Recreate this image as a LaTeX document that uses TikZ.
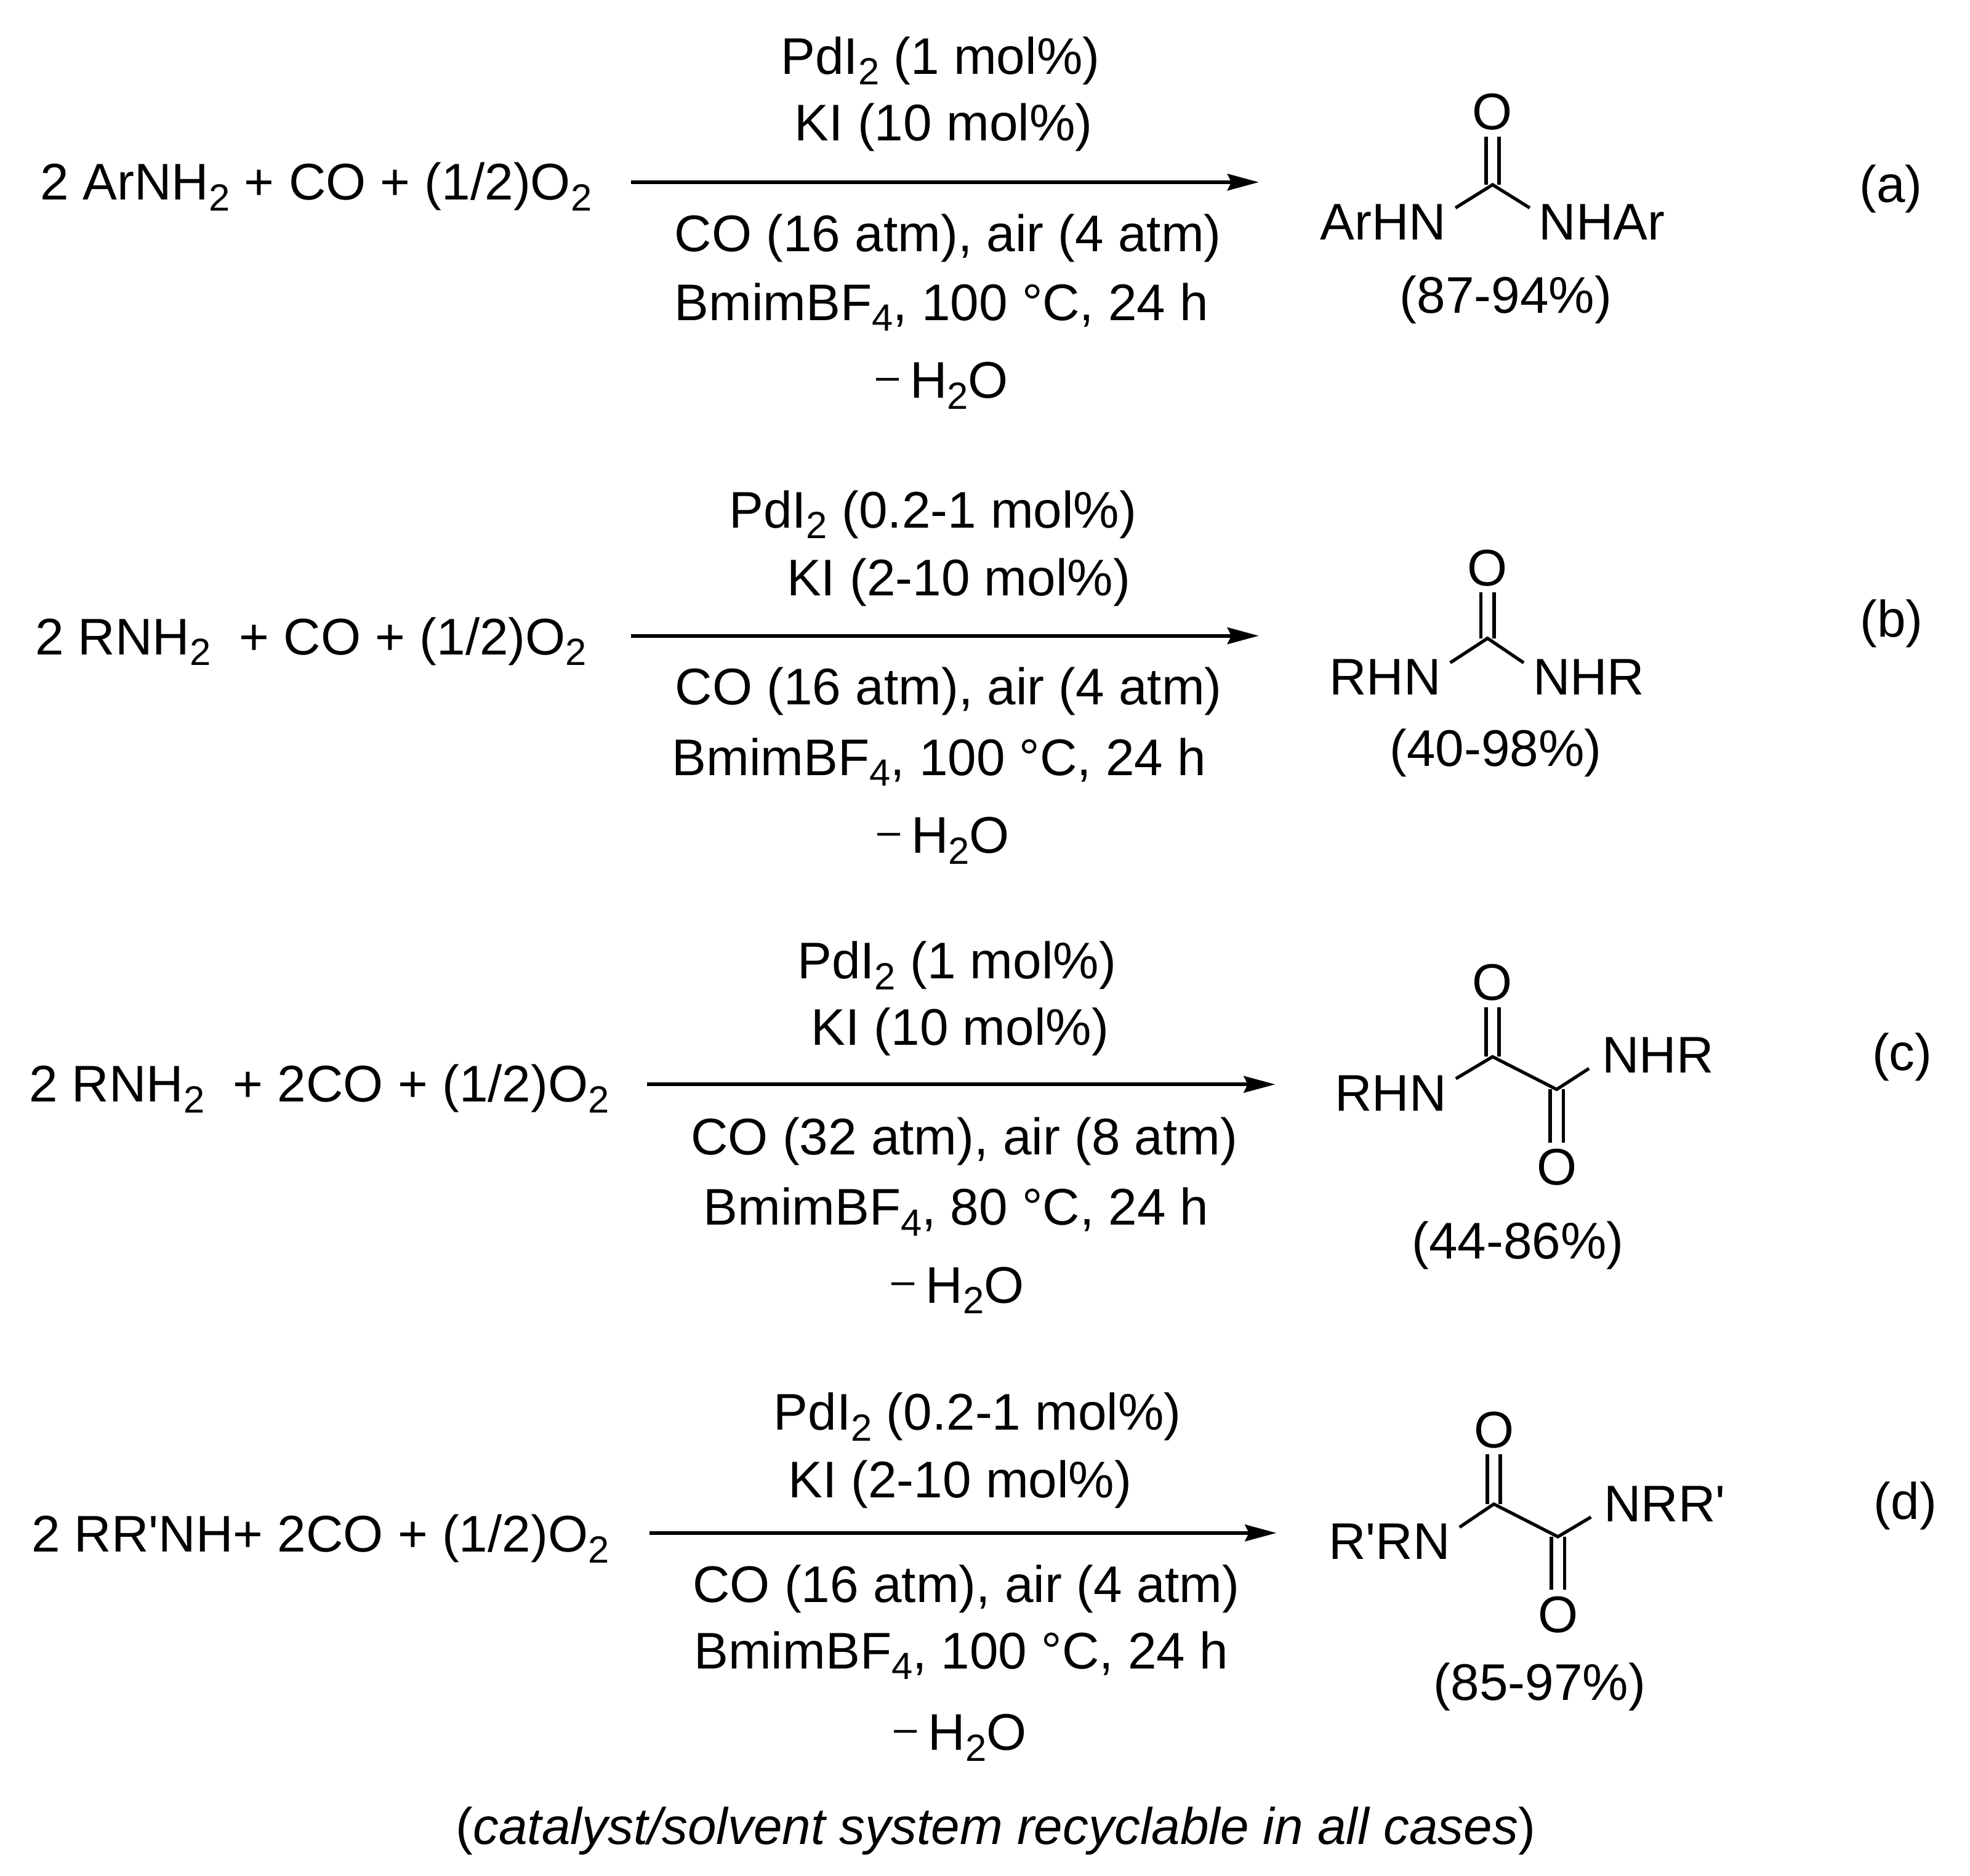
\documentclass[tikz,border=0pt]{standalone}
\usepackage{fontspec}
\setmainfont{Liberation Sans}
\newfontfamily\straightfont{Liberation Sans}
\usetikzlibrary{arrows.meta}

\newcommand{\chemsub}[1]{\raisebox{-0.21em}{\fontsize{17.5}{20}\selectfont #1}}
\newcommand{\lessh}{{\fontsize{19}{20}\selectfont\raisebox{3.9pt}{–}}\hspace{5pt}}
\newcommand{\prm}{{\straightfont '}}

\tikzset{
  txt/.style={anchor=base, inner sep=0pt, font=\fontsize{23.8}{28}\selectfont},
  atom/.style={txt},
  oxy/.style={txt, inner xsep=0pt, inner ysep=2.8pt},
  bond/.style={line width=1.5pt, line join=miter},
  dbond/.style={line width=1.5pt, double, double distance=4.5pt},
  rxnarrow/.style={line width=1.8pt, -{Stealth[length=14.5pt, width=7.6pt, inset=1.8pt]}}
}

\begin{document}
\begin{tikzpicture}[x=0.020408cm, y=-0.020408cm]
  \useasboundingbox (0,0) rectangle (1568,1493);

  % Reaction (a)
  \node[txt] (reactA) at (251.5,159) {2 ArNH\chemsub{2} + CO + (1/2)O\chemsub{2}};
  \coordinate (startA) at (502,145);
  \coordinate (endA) at (1002,145);
  \draw[rxnarrow] (startA) -- (endA);
  \node[txt] (pdA) at (748.5,59) {PdI\chemsub{2} (1 mol\%)};
  \node[txt] (kiA) at (751,112) {KI (10 mol\%)};
  \node[txt] (coA) at (754.5,200) {CO (16 atm), air (4 atm)};
  \node[txt] (solvA) at (749.5,255) {BmimBF\chemsub{4}, 100 °C, 24 h};
  \node[txt] (waterA) at (750,317) {\lessh H\chemsub{2}O};
  \coordinate (cA) at (1188,147);
  \node[oxy] (oA) at (1188,103) {O};
  \node[atom] (leftA) at (1101,191) {ArHN};
  \node[atom] (rightA) at (1275,191) {NHAr};
  \draw[dbond] (cA) -- (oA);
  \draw[bond] ([shift={(7,3)}]leftA.north east) -- (cA) -- ([shift={(-7,3)}]rightA.north west);
  \node[txt] (yieldA) at (1198.5,249) {(87-94\%)};
  \node[txt] (tagA) at (1505,161) {(a)};

  % Reaction (b)
  \node[txt] (reactB) at (247.5,521) {2 RNH\chemsub{2}\ \ + CO + (1/2)O\chemsub{2}};
  \coordinate (startB) at (502,506);
  \coordinate (endB) at (1002,506);
  \draw[rxnarrow] (startB) -- (endB);
  \node[txt] (pdB) at (742.5,420) {PdI\chemsub{2} (0.2-1 mol\%)};
  \node[txt] (kiB) at (763,474) {KI (2-10 mol\%)};
  \node[txt] (coB) at (755,561) {CO (16 atm), air (4 atm)};
  \node[txt] (solvB) at (747.5,617) {BmimBF\chemsub{4}, 100 °C, 24 h};
  \node[txt] (waterB) at (751,679) {\lessh H\chemsub{2}O};
  \coordinate (cB) at (1184,508);
  \node[oxy] (oB) at (1184,466) {O};
  \node[atom] (leftB) at (1102.5,553) {RHN};
  \node[atom] (rightB) at (1264.5,553) {NHR};
  \draw[dbond] (cB) -- (oB);
  \draw[bond] ([shift={(7,3)}]leftB.north east) -- (cB) -- ([shift={(-7,3)}]rightB.north west);
  \node[txt] (yieldB) at (1190.5,610) {(40-98\%)};
  \node[txt] (tagB) at (1505.5,507) {(b)};

  % Reaction (c)
  \node[txt] (reactC) at (254,877) {2 RNH\chemsub{2}\ \ + 2CO + (1/2)O\chemsub{2}};
  \coordinate (startC) at (515,863);
  \coordinate (endC) at (1015,863);
  \draw[rxnarrow] (startC) -- (endC);
  \node[txt] (pdC) at (761.5,779) {PdI\chemsub{2} (1 mol\%)};
  \node[txt] (kiC) at (764,832) {KI (10 mol\%)};
  \node[txt] (coC) at (767.5,919) {CO (32 atm), air (8 atm)};
  \node[txt] (solvC) at (761,975) {BmimBF\chemsub{4}, 80 °C, 24 h};
  \node[txt] (waterC) at (762.5,1037) {\lessh H\chemsub{2}O};
  \coordinate (c1C) at (1188,841);
  \coordinate (c2C) at (1239,867);
  \node[oxy] (o1C) at (1188,796) {O};
  \node[oxy] (o2C) at (1239,943) {O};
  \node[atom] (leftC) at (1107,884) {RHN};
  \node[atom] (rightC) at (1319.5,854) {NHR};
  \draw[dbond] (c1C) -- (o1C);
  \draw[dbond] (c2C) -- (o2C);
  \draw[bond] ([shift={(7,3)}]leftC.north east) -- (c1C) -- (c2C) -- ([shift={(-10,-4)}]rightC.south west);
  \node[txt] (yieldC) at (1208,1002) {(44-86\%)};
  \node[txt] (tagC) at (1514,852) {(c)};

  % Reaction (d)
  \node[txt] (reactD) at (255,1235) {2 RR\prm NH+ 2CO + (1/2)O\chemsub{2}};
  \coordinate (startD) at (517,1220);
  \coordinate (endD) at (1016,1220);
  \draw[rxnarrow] (startD) -- (endD);
  \node[txt] (pdD) at (778,1138) {PdI\chemsub{2} (0.2-1 mol\%)};
  \node[txt] (kiD) at (764,1192) {KI (2-10 mol\%)};
  \node[txt] (coD) at (769,1275) {CO (16 atm), air (4 atm)};
  \node[txt] (solvD) at (765,1328) {BmimBF\chemsub{4}, 100 °C, 24 h};
  \node[txt] (waterD) at (764.5,1393) {\lessh H\chemsub{2}O};
  \coordinate (c1D) at (1189,1197);
  \coordinate (c2D) at (1240,1223);
  \node[oxy] (o1D) at (1189,1152) {O};
  \node[oxy] (o2D) at (1240,1299) {O};
  \node[atom] (leftD) at (1106,1241) {R\prm RN};
  \node[atom] (rightD) at (1325,1211) {NRR\prm};
  \draw[dbond] (c1D) -- (o1D);
  \draw[dbond] (c2D) -- (o2D);
  \draw[bond] ([shift={(7,3)}]leftD.north east) -- (c1D) -- (c2D) -- ([shift={(-10,-4)}]rightD.south west);
  \node[txt] (yieldD) at (1225.5,1353) {(85-97\%)};
  \node[txt] (tagD) at (1516.5,1209) {(d)};

  % Note under the scheme
  \node[txt] (note) at (792.5,1468) {(\textit{catalyst/solvent system recyclable in all cases})};
\end{tikzpicture}
\end{document}
